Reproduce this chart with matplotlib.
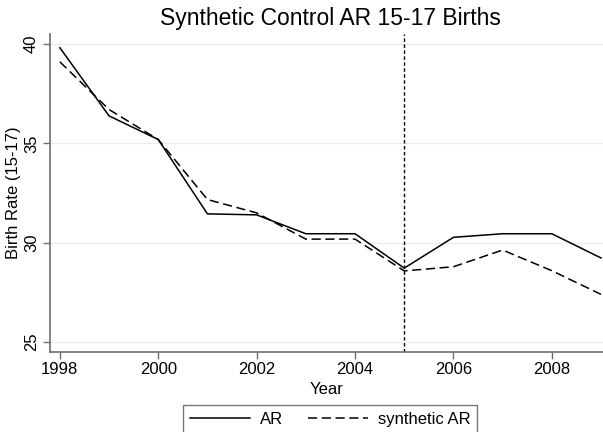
import matplotlib
matplotlib.use("Agg")
import matplotlib.pyplot as plt

plt.rcParams['font.family'] = ['Liberation Sans', 'DejaVu Sans']

years = [1998, 1999, 2000, 2001, 2002, 2003, 2004, 2005, 2006, 2007, 2008, 2009]
ar = [39.81, 36.38, 35.19, 31.45, 31.40, 30.45, 30.45, 28.72, 30.27, 30.45, 30.45, 29.23]
synthetic_ar = [39.10, 36.70, 35.19, 32.17, 31.50, 30.18, 30.18, 28.58, 28.79, 29.63, 28.59, 27.40]
treat_year = 2005
xticks = [1998, 2000, 2002, 2004, 2006, 2008]
yticks = [25, 30, 35, 40]

W, H = 603, 432
fig = plt.figure(figsize=(W / 100, H / 100), dpi=100)
ax = fig.add_axes([50 / W, 1 - 352 / H, 1 - 50 / W, (352 - 34) / H])

axis_gray = '#6e6e6e'
for y in yticks:
    ax.axhline(y, color='#ececec', lw=0.9, zorder=0)

ax.plot(years, ar, color='black', lw=1.1, label='AR', zorder=3)
ax.plot(years, synthetic_ar, color='black', lw=1.1, linestyle=(0, (6, 3)),
        label='synthetic AR', zorder=3)
ax.axvline(treat_year, color='black', lw=1.0, linestyle=(0, (2.5, 1.8)), zorder=2)

ax.set_xlim(1997.8, 2009.04)
ax.set_ylim(24.5, 40.5)
ax.set_xticks(xticks)
ax.set_yticks(yticks)
ax.tick_params(axis='both', colors=axis_gray, labelcolor='black', labelsize=12,
               length=5, width=1.0, direction='out')
for lab in ax.get_yticklabels():
    lab.set_rotation(90)
    lab.set_va('center')
ax.tick_params(axis='x', pad=2.5)
ax.tick_params(axis='y', pad=3)

for side in ['top', 'right']:
    ax.spines[side].set_visible(False)
for side in ['left', 'bottom']:
    ax.spines[side].set_color(axis_gray)
    ax.spines[side].set_linewidth(1.2)

ax.set_xlabel('Year', fontsize=12, labelpad=3)
ax.set_ylabel('Birth Rate (15-17)', fontsize=12, labelpad=2)

fig.text(330 / W, 1 - 19 / H, 'Synthetic Control AR 15-17 Births', fontsize=16.5,
         ha='center', va='center')

leg = fig.legend(loc='upper left', bbox_to_anchor=(183 / W, 1 - 405 / H), ncol=2,
                 fontsize=12, frameon=True, fancybox=False, edgecolor='#555555',
                 handlelength=3.6, handletextpad=0.6, columnspacing=1.5,
                 borderpad=0.4, borderaxespad=0)
leg.get_frame().set_linewidth(1.0)

fig.savefig('out.png', dpi=100)
